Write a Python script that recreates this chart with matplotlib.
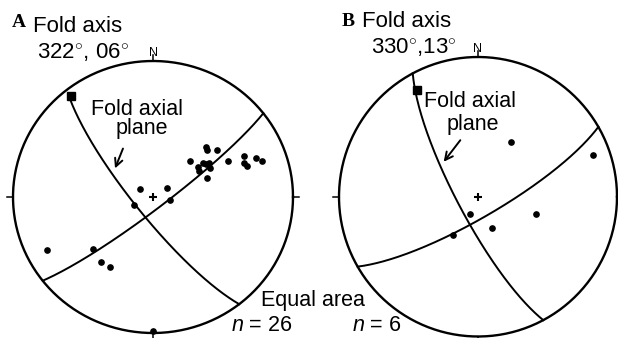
import numpy as np
import matplotlib.pyplot as plt

W, H = 618, 338

# fold axes (trend, plunge)
axis_a = (322, 6)
axis_b = (330, 13)

trend_a = [46, 48, 53, 45, 55, 60, 55, 57, 58, 62, 70, 64, 65, 69, 71, 69, 71,
           300, 56, 100, 247, 243, 228, 218, 211, 180]
plunge_a = [46, 47, 42, 59, 58, 59, 54, 53, 51, 52, 56, 40, 29, 31, 30, 22, 19,
            81, 80, 80, 78, 16, 42, 39, 40, 2]
trend_b = [31, 70, 206, 106, 155, 213]
plunge_b = [52, 13, 79, 54, 70, 63]

# great circles, strike / dip (right hand rule)
axial_a = (142, 79)
girdle_a = (52, 83)
axial_b = (152, 78)
girdle_b = (60, 78)


#### projection equal area, hemisphere inferieur

def line_xy(trend, plunge):
    t = np.radians(np.asarray(trend, dtype=float))
    p = np.radians(np.asarray(plunge, dtype=float))
    rho = np.sqrt(2) * np.sin((np.pi / 2 - p) / 2)
    return rho * np.sin(t), rho * np.cos(t)


def plane_xy(strike, dip, rake0=0, rake1=180):
    s = np.radians(strike)
    d = np.radians(dip)
    r = np.radians(np.linspace(rake0, rake1, 300))
    n = np.cos(r) * np.cos(s) + np.sin(r) * np.cos(d) * np.cos(s + np.pi / 2)
    e = np.cos(r) * np.sin(s) + np.sin(r) * np.cos(d) * np.sin(s + np.pi / 2)
    z = np.sin(r) * np.sin(d)
    trend = np.degrees(np.arctan2(e, n))
    plunge = np.degrees(np.arcsin(np.clip(z, -1, 1)))
    return line_xy(trend, plunge)


def net(ax):
    th = np.linspace(0, 2 * np.pi, 400)
    ax.plot(np.cos(th), np.sin(th), color='black', lw=1.7, clip_on=False)
    k = 1.045
    ax.plot([0, 0], [1, k], color='black', lw=1.1, clip_on=False)
    ax.plot([0, 0], [-1, -k], color='black', lw=1.1, clip_on=False)
    ax.plot([1, k], [0, 0], color='black', lw=1.1, clip_on=False)
    ax.plot([-1, -k], [0, 0], color='black', lw=1.1, clip_on=False)
    ax.plot([0], [0], marker='+', color='black', ms=5.5, mew=1.5)
    ax.set_xlim(-1, 1)
    ax.set_ylim(-1, 1)
    ax.axis('off')


def fpos(x, y):
    return x / W, 1 - y / H


plt.rcParams['font.family'] = ['Liberation Sans', 'DejaVu Sans']
plt.rcParams['mathtext.fontset'] = 'custom'
plt.rcParams['mathtext.rm'] = 'Liberation Sans'
plt.rcParams['mathtext.it'] = 'Liberation Sans:italic'

fig = plt.figure(figsize=(W / 100, H / 100), dpi=100)

ax_a = fig.add_axes([13 / W, 5 / H, 280 / W, 272 / H])
ax_b = fig.add_axes([339 / W, 1.5 / H, 278 / W, 279.5 / H])

for ax, ax_fold, axial, girdle, tr, pl, r1 in [
        (ax_a, axis_a, axial_a, girdle_a, trend_a, plunge_a, 174),
        (ax_b, axis_b, axial_b, girdle_b, trend_b, plunge_b, 180)]:
    net(ax)
    x, y = plane_xy(*axial, 0, r1)
    ax.plot(x, y, color='black', lw=1.4, clip_on=False)
    x, y = plane_xy(*girdle)
    ax.plot(x, y, color='black', lw=1.4, clip_on=False)
    x, y = line_xy(tr, pl)
    ax.plot(x, y, 'o', color='black', ms=3.8, clip_on=False)
    x, y = line_xy(*ax_fold)
    ax.plot(x, y, 's', color='black', ms=6, clip_on=False)

# textes
serif = ['Liberation Serif', 'DejaVu Serif']
fig.text(*fpos(12, 27), 'A', family=serif, weight='bold', fontsize=14, va='baseline')
fig.text(*fpos(33, 32), 'Fold axis', fontsize=16, va='baseline')
fig.text(*fpos(37, 59), r'322$^{\circ}$, 06$^{\circ}$', fontsize=16, va='baseline')
fig.text(*fpos(153, 56), 'N', fontsize=9, ha='center', va='baseline')
fig.text(*fpos(137, 115), 'Fold axial', fontsize=15.5, ha='center', va='baseline')
fig.text(*fpos(142, 134), 'plane', fontsize=15.5, ha='center', va='baseline')
fig.text(*fpos(261, 306), 'Equal area', fontsize=15.5, va='baseline')
fig.text(*fpos(231, 331), r'$n$ = 26', fontsize=15.5, va='baseline')

fig.text(*fpos(342, 26), 'B', family=serif, weight='bold', fontsize=14, va='baseline')
fig.text(*fpos(362, 27), 'Fold axis', fontsize=16, va='baseline')
fig.text(*fpos(371, 54), r'330$^{\circ}$,13$^{\circ}$', fontsize=16, va='baseline')
fig.text(*fpos(477, 52), 'N', fontsize=9, ha='center', va='baseline')
fig.text(*fpos(470, 107), 'Fold axial', fontsize=15.5, ha='center', va='baseline')
fig.text(*fpos(473, 130), 'plane', fontsize=15.5, ha='center', va='baseline')
fig.text(*fpos(352, 331), r'$n$ = 6', fontsize=15.5, va='baseline')

# fleches
arrow = dict(arrowstyle='->', color='black', lw=1.4, mutation_scale=14)
ax_a.annotate('', xy=fpos(114, 171), xytext=fpos(124, 146),
              xycoords='figure fraction', textcoords='figure fraction', arrowprops=arrow)
ax_b.annotate('', xy=fpos(442, 164), xytext=fpos(462, 138),
              xycoords='figure fraction', textcoords='figure fraction', arrowprops=arrow)

fig.savefig('out.png', dpi=100)
